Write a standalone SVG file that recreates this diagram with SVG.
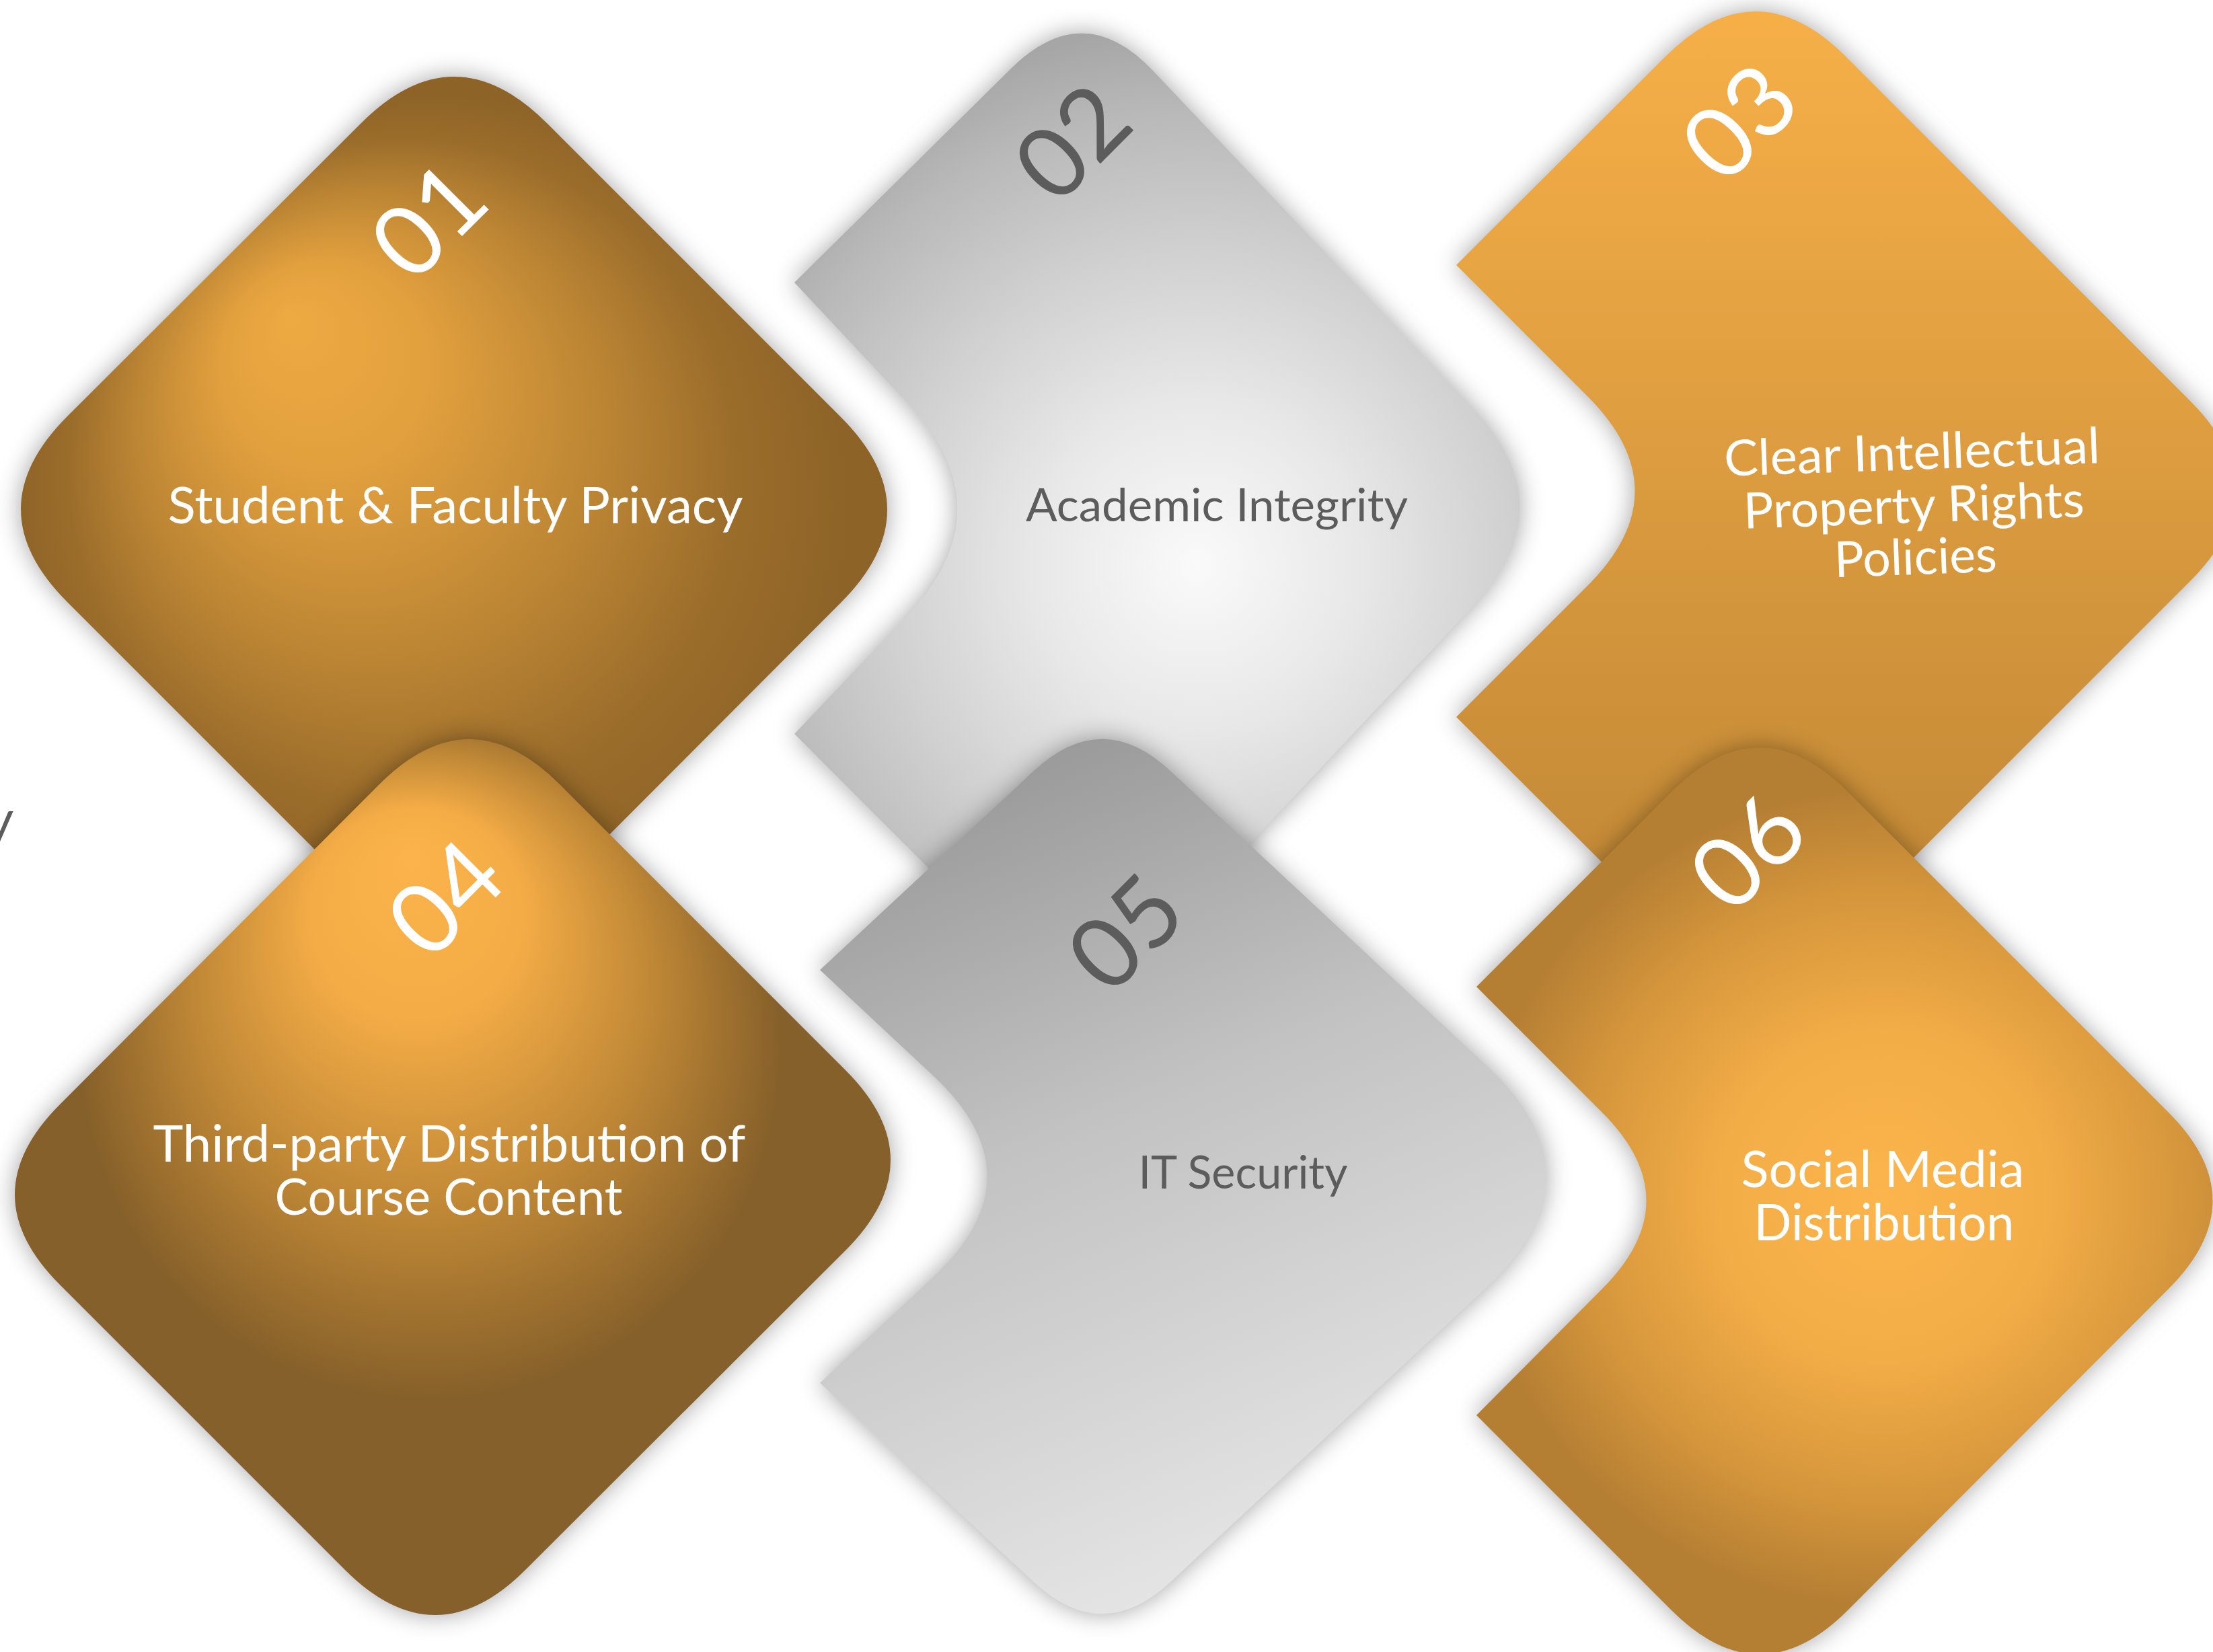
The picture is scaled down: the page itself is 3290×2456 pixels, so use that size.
<svg xmlns="http://www.w3.org/2000/svg" width="3290" height="2456" viewBox="0 0 3290 2456">
  <defs>
    <style>
      .txt { font-family: Lato, "Open Sans", "Liberation Sans", sans-serif; }
      .num { font-family: Lato, "Open Sans", "Liberation Sans", sans-serif; font-size: 146px; text-anchor: middle; }
      .lbl { font-family: Lato, "Open Sans", "Liberation Sans", sans-serif; text-anchor: middle; }
      .light { fill: #ffffff; }
      .dark { fill: #5c5c5c; }
      .tile { filter: url(#shade); }
    </style>

    <!-- soft halo shadow shared by every tile -->
    <filter id="shade" x="-15%" y="-15%" width="130%" height="130%" color-interpolation-filters="sRGB">
      <feDropShadow dx="0" dy="0" stdDeviation="18" flood-color="#000000" flood-opacity="0.36"/>
    </filter>

    <!-- bronze tile, glow towards the upper left -->
    <radialGradient id="g01" gradientUnits="userSpaceOnUse" cx="640" cy="760" r="620" fx="430" fy="470">
      <stop offset="0" stop-color="#EEAA42"/>
      <stop offset="0.25" stop-color="#E2A03E"/>
      <stop offset="0.55" stop-color="#BD8634"/>
      <stop offset="0.8" stop-color="#9B6D2B"/>
      <stop offset="1" stop-color="#8D6327"/>
    </radialGradient>

    <!-- bronze tile, glow under the number -->
    <radialGradient id="g04" gradientUnits="userSpaceOnUse" cx="640" cy="1560" r="520" fx="610" fy="1270">
      <stop offset="0" stop-color="#FCB34B"/>
      <stop offset="0.3" stop-color="#F4AC46"/>
      <stop offset="0.65" stop-color="#C08836"/>
      <stop offset="1" stop-color="#86602A"/>
    </radialGradient>

    <!-- silver tile with a white centre -->
    <radialGradient id="g02" gradientUnits="userSpaceOnUse" cx="1780" cy="840" r="800">
      <stop offset="0" stop-color="#FAFAFA"/>
      <stop offset="0.3" stop-color="#E8E8E8"/>
      <stop offset="0.6" stop-color="#CFCFCF"/>
      <stop offset="0.85" stop-color="#B8B8B8"/>
      <stop offset="1" stop-color="#A6A6A6"/>
    </radialGradient>

    <!-- silver tile, dark top-left to light bottom-right -->
    <linearGradient id="g05" gradientUnits="userSpaceOnUse" x1="1450" y1="1100" x2="1950" y2="2300">
      <stop offset="0" stop-color="#969696"/>
      <stop offset="0.45" stop-color="#C2C2C2"/>
      <stop offset="1" stop-color="#E5E5E5"/>
    </linearGradient>

    <!-- amber tile, vertical fade -->
    <linearGradient id="g03" gradientUnits="userSpaceOnUse" x1="0" y1="0" x2="0" y2="1500">
      <stop offset="0" stop-color="#F7B048"/>
      <stop offset="1" stop-color="#BC8434"/>
    </linearGradient>

    <!-- amber tile, bright centre -->
    <radialGradient id="g06" gradientUnits="userSpaceOnUse" cx="2800" cy="1780" r="610">
      <stop offset="0" stop-color="#FCB54C"/>
      <stop offset="0.4" stop-color="#F3AD47"/>
      <stop offset="0.75" stop-color="#D4953B"/>
      <stop offset="1" stop-color="#B47E33"/>
    </radialGradient>
  </defs>

  <rect width="3290" height="2456" fill="#ffffff"/>

  <!-- tail of a label running off the left edge -->
  <text class="txt dark" x="-20" y="1245" font-size="78">y</text>

  <!-- back row -->
  <g id="node-01">
    <path class="tile" fill="url(#g01)" d="M537,183 Q675,45 813,183 L1250,620 Q1388,758 1250,896 L814,1333 Q676,1471 538,1333 L100,895 Q-38,757 100,619 Z"/>
    <text class="num light" x="674" y="364" transform="rotate(-45 674 364)">01</text>
    <text class="lbl light" x="677" y="778" font-size="76" textLength="855" lengthAdjust="spacingAndGlyphs">Student &amp; Faculty Privacy</text>
  </g>

  <g id="node-02">
    <path class="tile" fill="url(#g02)" d="M1181,420 L1504,101 Q1611,-4 1714,105 L2191,609 Q2328,754 2191,900 L1732,1388 Q1609,1519 1482,1392 L1181,1091 L1347,917 Q1499,758 1348,598 Z"/>
    <text class="num dark" x="1631" y="248" transform="rotate(-45 1631 248)">02</text>
    <text class="lbl dark" x="1809" y="775" font-size="68" textLength="568" lengthAdjust="spacingAndGlyphs">Academic Integrity</text>
  </g>

  <g id="node-03">
    <path class="tile" fill="url(#g03)" d="M2165,394 L2476,84 Q2610,-50 2744,84 L3256,596 Q3390,730 3256,864 L2744,1376 Q2610,1510 2476,1376 L2165,1066 L2360,871 Q2501,730 2360,589 Z"/>
    <text class="num light" x="2623" y="218" transform="rotate(-45 2623 218)">03</text>
    <g transform="rotate(-2 2846 777)">
      <text class="lbl light" x="2846" y="698" font-size="74" textLength="559" lengthAdjust="spacingAndGlyphs">Clear Intellectual</text>
      <text class="lbl light" x="2846" y="777" font-size="74" textLength="507" lengthAdjust="spacingAndGlyphs">Property Rights</text>
      <text class="lbl light" x="2846" y="854" font-size="74" textLength="242" lengthAdjust="spacingAndGlyphs">Policies</text>
    </g>
  </g>

  <!-- front row -->
  <g id="node-04">
    <path class="tile" fill="url(#g04)" d="M564,1166 Q698,1032 832,1166 L1257,1591 Q1391,1725 1257,1859 L781,2334 Q647,2468 513,2334 L89,1910 Q-45,1776 89,1642 Z"/>
    <text class="num light" x="699" y="1372" transform="rotate(-45 699 1372)">04</text>
    <text class="lbl light" x="668" y="1727" font-size="76" textLength="881" lengthAdjust="spacingAndGlyphs">Third-party Distribution of</text>
    <text class="lbl light" x="667" y="1806" font-size="76" textLength="517" lengthAdjust="spacingAndGlyphs">Course Content</text>
  </g>

  <g id="node-05">
    <path class="tile" fill="url(#g05)" d="M1219,1442 L1537,1146 Q1639,1051 1741,1147 L2211,1585 Q2386,1749 2211,1913 L1741,2351 Q1639,2447 1537,2352 L1219,2056 L1387,1899 Q1548,1749 1387,1599 Z"/>
    <text class="num dark" x="1710" y="1423" transform="rotate(-45 1710 1423)">05</text>
    <text class="lbl dark" x="1848" y="1767" font-size="68" textLength="311" lengthAdjust="spacingAndGlyphs">IT Security</text>
  </g>

  <g id="node-06">
    <path class="tile" fill="url(#g06)" d="M2195,1467 L2485,1177 Q2616,1046 2747,1177 L3224,1654 Q3355,1785 3224,1916 L2747,2394 Q2616,2525 2485,2394 L2195,2104 L2382,1916 Q2513,1785 2382,1654 Z"/>
    <text class="num light" x="2635" y="1303" transform="rotate(-45 2635 1303)">06</text>
    <text class="lbl light" x="2799" y="1765" font-size="75" textLength="421" lengthAdjust="spacingAndGlyphs">Social Media</text>
    <text class="lbl light" x="2801" y="1844" font-size="75" textLength="387" lengthAdjust="spacingAndGlyphs">Distribution</text>
  </g>

  <g id="connectors"/>
</svg>
